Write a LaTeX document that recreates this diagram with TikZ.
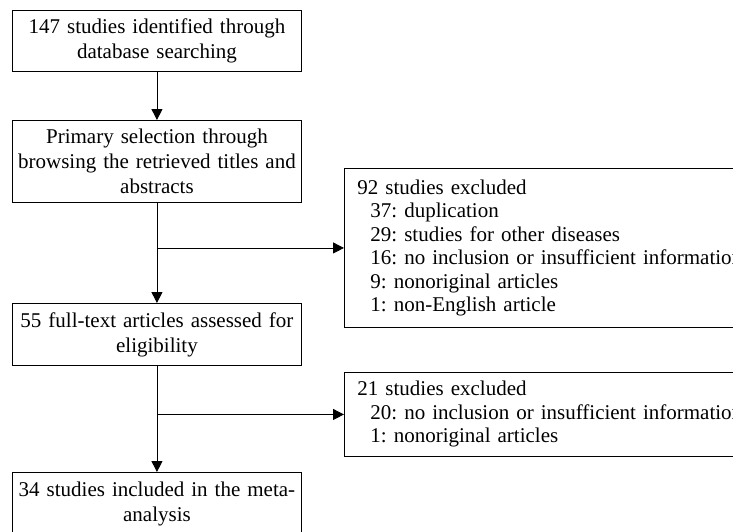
\documentclass[tikz,border=0pt]{standalone}
\usepackage{fontspec}
\setmainfont{Liberation Serif}
\usetikzlibrary{arrows.meta}
\begin{document}
\begin{tikzpicture}[x=1pt,y=-1pt,
  every node/.style={font=\fontsize{21}{25}\selectfont\frenchspacing},
  mainbox/.style={draw, line width=0.9pt, anchor=north west, minimum width=289pt,
    text width=283pt, inner xsep=3pt, inner ysep=0pt, align=center},
  exbox/.style={draw, line width=0.9pt, anchor=north west, text width=480pt,
    inner xsep=13pt, inner ysep=0pt, align=left,
    font=\fontsize{21}{23.5}\selectfont\frenchspacing},
  conn/.style={line width=0.9pt, -{Triangle[length=11pt,width=11pt]}}]
\useasboundingbox (0,0) rectangle (733,531);
\clip (0,0) rectangle (733,531);

\node[mainbox, minimum height=61pt] (b1) at (12,10)
  {147 studies identified through\\database searching};
\node[mainbox, minimum height=82pt] (b2) at (12,120)
  {Primary selection through\\browsing the retrieved titles and\\abstracts};
\node[mainbox, minimum height=62pt] (b3) at (12,303)
  {55 full-text articles assessed for\\eligibility};
\node[mainbox, minimum height=63pt] (b4) at (12,472)
  {34 studies included in the meta-\\analysis};

\node[exbox, minimum height=159pt] (e1) at (344,168)
  {92 studies excluded\\
   \hspace*{13pt}37: duplication\\
   \hspace*{13pt}29: studies for other diseases\\
   \hspace*{13pt}16: no inclusion or insufficient information\\
   \hspace*{13pt}9: nonoriginal articles\\
   \hspace*{13pt}1: non-English article};
\node[exbox, minimum height=84pt] (e2) at (344,372)
  {21 studies excluded\\
   \hspace*{13pt}20: no inclusion or insufficient information\\
   \hspace*{13pt}1: nonoriginal articles};

\coordinate (j1) at (b2.south |- e1.west);
\coordinate (j2) at (b3.south |- e2.west);

\draw[conn] (b1.south) -- (b2.north);
\draw[conn] (b2.south) -- (b3.north);
\draw[conn] (j1) -- (e1.west);
\draw[conn] (b3.south) -- (b4.north);
\draw[conn] (j2) -- (e2.west);
\end{tikzpicture}
\end{document}
